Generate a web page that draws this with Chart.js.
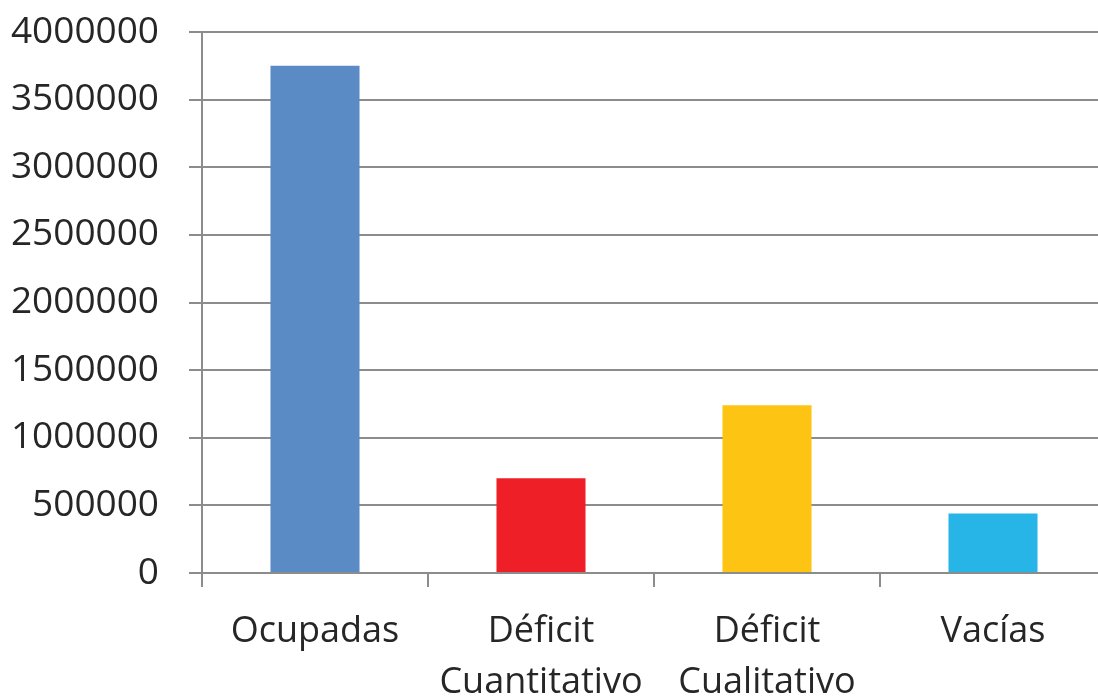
<!DOCTYPE html>
<html>
<head>
<meta charset="utf-8">
<script src="https://cdn.jsdelivr.net/npm/chart.js"></script>
<style>
html,body{margin:0;padding:0;background:#fff;overflow:hidden;width:1098px;height:697px;}
#wrap{position:absolute;left:0;top:0;width:1112px;height:697px;}
</style>
</head>
<body>
<div id="wrap"><canvas id="c" width="1112" height="697"></canvas></div>
<script>
const categories = [['Ocupadas'], ['Déficit', 'Cuantitativo'], ['Déficit', 'Cualitativo'], ['Vacías']];
const values = [3750000, 700000, 1240000, 440000];
const barColors = ['#5b8bc5', '#ee1f26', '#fdc413', '#27b5e8'];
const yTicks = [0, 500000, 1000000, 1500000, 2000000, 2500000, 3000000, 3500000, 4000000];

new Chart(document.getElementById('c'), {
  type: 'bar',
  data: {
    labels: categories,
    datasets: [{
      data: values,
      backgroundColor: barColors,
      borderWidth: 0,
      categoryPercentage: 1,
      barPercentage: 0.394
    }]
  },
  options: {
    responsive: false,
    animation: false,
    layout: { padding: { top: 32, right: 6, left: 0, bottom: 0 } },
    plugins: { legend: { display: false }, tooltip: { enabled: false } },
    scales: {
      x: {
        grid: { offset: true, drawOnChartArea: false, drawTicks: true, tickLength: 14, color: '#8c8c8c', lineWidth: 2 },
        border: { display: true, color: '#8c8c8c', width: 2 },
        ticks: { color: '#262626', font: { family: 'Open Sans', size: 36, lineHeight: 1.4 }, padding: 20, maxRotation: 0, autoSkip: false },
        afterFit: s => { s.height = 124; s.paddingLeft = 0; s.paddingRight = 0; }
      },
      y: {
        min: 0, max: 4000000,
        afterBuildTicks: axis => { axis.ticks = yTicks.map(v => ({ value: v })); },
        grid: { color: '#8c8c8c', lineWidth: 2, tickLength: 13 },
        border: { display: true, color: '#8c8c8c', width: 2 },
        ticks: { color: '#262626', font: { family: 'Open Sans', size: 37 }, padding: 30, callback: v => String(v) },
        afterFit: s => { s.width = 202; s.paddingTop = 0; s.paddingBottom = 0; }
      }
    }
  }
});
</script>
</body>
</html>
